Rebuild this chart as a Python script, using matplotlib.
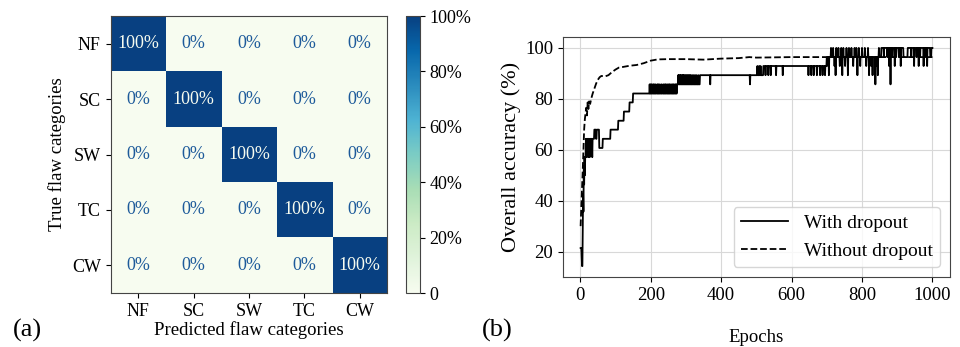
import matplotlib
matplotlib.use('Agg')
import matplotlib.pyplot as plt
import numpy as np

plt.rcParams['font.family'] = ['Liberation Serif', 'DejaVu Serif']

# ---- (a) confusion matrix data ----
categories = ['NF', 'SC', 'SW', 'TC', 'CW']
conf_pct = np.array([[100, 0, 0, 0, 0],
                     [0, 100, 0, 0, 0],
                     [0, 0, 100, 0, 0],
                     [0, 0, 0, 100, 0],
                     [0, 0, 0, 0, 100]])
cbar_ticks = [0, 20, 40, 60, 80, 100]
cbar_labels = ['0', '20%', '40%', '60%', '80%', '100%']

# ---- (b) training curves ----
# "with dropout": step levels (epoch where level starts, accuracy %)
drop_base_start = [1, 4, 5, 7, 8, 9, 10, 11, 12, 13, 14, 16, 17, 19, 21, 23, 24, 26, 28,
                   30, 32, 34, 35, 40, 45, 47, 54, 64, 86, 108, 124, 140, 150, 275, 340,
                   520, 700, 855, 918, 930, 994, 997]
drop_base_value = [21.4, 17.9, 14.3, 28.6, 42.9, 35.7, 53.6, 46.4, 57.1, 50.0, 57.1, 64.3,
                   57.1, 64.3, 60.7, 57.1, 64.3, 57.1, 64.3, 60.7, 64.3, 57.1, 64.3, 67.9,
                   64.3, 67.9, 60.7, 64.3, 67.9, 71.4, 75.0, 78.6, 82.1, 85.7, 89.3, 92.9,
                   96.4, 100.0, 96.4, 100.0, 96.4, 100.0]
# single-epoch excursions from the step level
spike_857 = [197, 200, 203, 207, 210, 214, 219, 222, 226, 231, 236, 240, 243, 247, 251,
             254, 258, 262, 265, 269, 272, 369, 482, 838, 881]
spike_893 = [278, 280, 283, 285, 288, 291, 293, 296, 299, 302, 305, 308, 311, 314, 318,
             322, 326, 330, 335, 526, 534, 541, 556, 575, 648, 656, 663, 672, 681, 688,
             695, 706, 725, 744, 760, 787, 820, 830, 845]
spike_929 = [503, 508, 512, 704, 722, 737, 752, 775, 795, 812, 826, 842, 877, 893, 910,
             948, 961, 975, 985]
spike_964 = [862, 872, 886, 897, 905, 940, 955, 965, 980]
spike_100 = [712, 718, 727, 733, 741, 747, 756, 763, 770, 779, 784, 791, 800, 808, 817,
             848]

# "without dropout": smooth curve knots (epoch, accuracy %)
nodrop_epoch = [1, 3, 5, 7, 9, 11, 13, 15, 17, 19, 21, 23, 25, 28, 31, 35, 40, 45, 50,
                55, 60, 70, 80, 90, 100, 110, 120, 140, 160, 180, 200, 220, 250, 300,
                350, 400, 450, 480, 500, 600, 700, 800, 900, 1000]
nodrop_acc = [30.0, 38.0, 45.0, 52.0, 60.0, 68.0, 72.0, 74.5, 76.5, 73.5, 78.6, 76.0,
              79.0, 78.0, 80.0, 82.0, 84.0, 86.0, 87.5, 88.5, 89.0, 88.8, 89.3, 90.5,
              91.5, 92.3, 92.5, 93.0, 93.3, 94.0, 95.0, 95.5, 95.6, 95.6, 95.4, 95.8,
              96.0, 96.4, 96.2, 96.4, 96.4, 96.4, 96.4, 96.4]

epochs = np.arange(1, 1001)
idx = np.searchsorted(drop_base_start, epochs, side='right') - 1
acc_drop = np.array(drop_base_value)[idx]
for ep_list, val in [(spike_857, 85.7), (spike_893, 89.3), (spike_929, 92.9),
                     (spike_964, 96.4), (spike_100, 100.0)]:
    acc_drop[np.array(ep_list) - 1] = val

fig = plt.figure(figsize=(9.6, 3.47), dpi=100)

# ---------- (a) ----------
ax1 = fig.add_axes([0.1146, 0.1556, 0.2896, 0.798])
cmap = plt.get_cmap('GnBu')
im = ax1.imshow(conf_pct, cmap=cmap, vmin=0, vmax=100)
for i in range(len(categories)):
    for j in range(len(categories)):
        v = conf_pct[i, j]
        col = '#f7fcf0' if v > 50 else '#1d5a9a'
        ax1.text(j, i, '%d%%' % v, ha='center', va='center', color=col, fontsize=13)
ax1.set_xticks(range(len(categories)))
ax1.set_xticklabels(categories, fontsize=13)
ax1.set_yticks(range(len(categories)))
ax1.set_yticklabels(categories, fontsize=13)
ax1.set_xlabel('Predicted flaw categories', fontsize=13.5, labelpad=1)
ax1.set_ylabel('True flaw categories', fontsize=13.5, labelpad=4)
for s in ax1.spines.values():
    s.set_color('#444444')

cax = fig.add_axes([0.4229, 0.1556, 0.0146, 0.798])
cb = fig.colorbar(im, cax=cax)
cb.set_ticks(cbar_ticks)
cb.set_ticklabels(cbar_labels)
cb.ax.tick_params(labelsize=13)
cb.outline.set_edgecolor('#444444')

fig.text(0.013, 0.03, '(a)', fontsize=19)

# ---------- (b) ----------
ax2 = fig.add_axes([0.5865, 0.2017, 0.4031, 0.6916])
ax2.plot(epochs, acc_drop, color='black', lw=1.3, label='With dropout')
ax2.plot(nodrop_epoch, nodrop_acc, color='black', lw=1.3, ls='--', label='Without dropout')
ax2.set_xticks([0, 200, 400, 600, 800, 1000])
ax2.set_yticks([20, 40, 60, 80, 100])
ax2.tick_params(labelsize=13.5)
ax2.grid(True, color='#d8d8d8', lw=0.8)
ax2.set_axisbelow(True)
ax2.set_xlabel('Epochs', fontsize=13.5, labelpad=18)
ax2.set_ylabel('Overall accuracy (%)', fontsize=16, labelpad=3)
for s in ax2.spines.values():
    s.set_color('#444444')
ax2.legend(loc='lower right', fontsize=14, handlelength=2.4)

fig.text(0.502, 0.03, '(b)', fontsize=19)

fig.savefig('out.png', dpi=100)
